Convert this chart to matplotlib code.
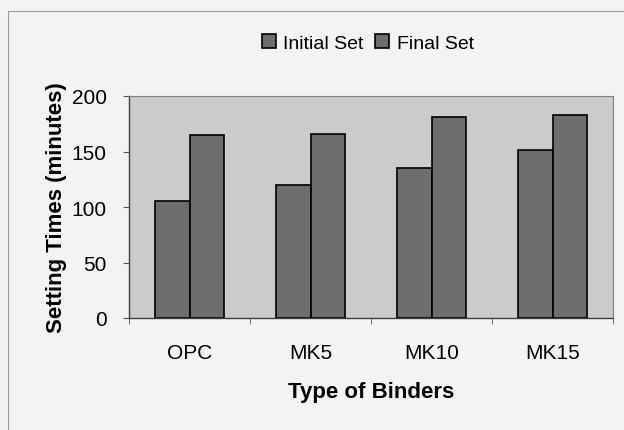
import numpy as np
import matplotlib
matplotlib.use('Agg')
import matplotlib.pyplot as plt
from matplotlib.patches import Rectangle

plt.rcParams['font.family'] = ['Liberation Sans', 'DejaVu Sans']

binders = ['OPC', 'MK5', 'MK10', 'MK15']
initial_set = [105, 120, 135, 151]
final_set = [165, 166, 181, 183]

fig = plt.figure(figsize=(6.24, 4.31), dpi=100)
fig.patch.set_facecolor('#f3f3f3')
# outer chart frame
fig.patches.append(Rectangle((8 / 624, -0.05), 1.1, 1 - 12 / 431 + 0.05,
                             transform=fig.transFigure, fill=False,
                             edgecolor='#9a9a9a', linewidth=0.8))

ax = fig.add_axes([129 / 624, 1 - 319 / 431, 484 / 624, 222 / 431])
ax.set_facecolor('#cbcbcb')

x = np.arange(len(binders))
w = 0.285
ax.bar(x - w / 2, initial_set, w, color='#6e6e6e', edgecolor='black',
       linewidth=1.2, label='Initial Set')
ax.bar(x + w / 2, final_set, w, color='#6e6e6e', edgecolor='black',
       linewidth=1.2, label='Final Set')

ax.set_xlim(-0.5, len(binders) - 0.5)
ax.set_ylim(0, 200)
ax.set_yticks([0, 50, 100, 150, 200])
ax.set_xticks(x)
ax.set_xticklabels(binders)
ax.set_xticks(np.arange(-0.5, len(binders)), minor=True)
ax.tick_params(axis='x', which='major', length=0, pad=18, labelsize=15)
ax.tick_params(axis='x', which='minor', length=4, color='#555555')
ax.tick_params(axis='y', length=4, color='#555555', labelsize=15, pad=12)

for s in ['top', 'right']:
    ax.spines[s].set_color('#808080')
    ax.spines[s].set_linewidth(0.8)
for s in ['left', 'bottom']:
    ax.spines[s].set_color('#404040')
    ax.spines[s].set_linewidth(1.0)

ax.set_ylabel('Setting Times (minutes)', fontsize=16, fontweight='bold', labelpad=3)
ax.set_xlabel('Type of Binders', fontsize=16, fontweight='bold', labelpad=14)

fig.legend(loc='center', bbox_to_anchor=(368 / 624, 1 - 44 / 431), ncol=2,
           frameon=False, fontsize=14, handlelength=0.7, handleheight=0.7,
           handletextpad=0.4, columnspacing=0.6)

fig.savefig('out.png', dpi=100, facecolor=fig.get_facecolor())
